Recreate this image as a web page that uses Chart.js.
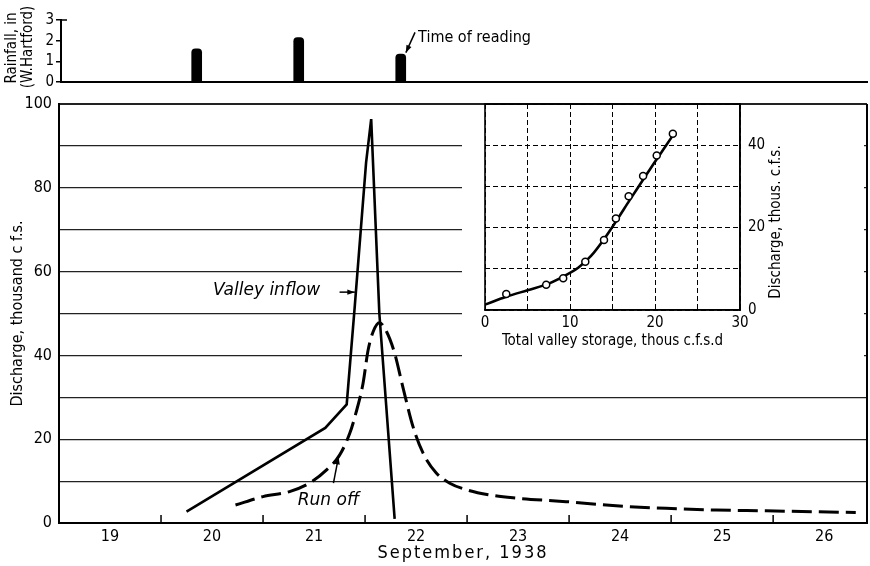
<!DOCTYPE html>
<html>
<head>
<meta charset="utf-8">
<script src="https://cdn.jsdelivr.net/npm/chart.js@4.4.1/dist/chart.umd.min.js"></script>
<style>
  html, body { margin: 0; padding: 0; background: #fff; }
  #wrap { position: relative; width: 870px; height: 566px; }
  #wrap canvas { position: absolute; left: 0; top: 0; }
</style>
</head>
<body>
<div id="wrap">
  <canvas id="flowChart" width="870" height="566"></canvas>
  <canvas id="rainChart" width="870" height="566"></canvas>
  <canvas id="storageChart" width="870" height="566"></canvas>
</div>
<script>
// Rainfall at W. Hartford (inches), placed at time of reading
const rainDays = [20.35, 21.35, 22.35];
const rainInches = [1.6, 2.15, 1.35];

// Valley inflow, thousand c.f.s.
const inflowDays = [20.25, 21.61, 21.82, 21.90, 22.01, 22.06, 22.14, 22.29];
const inflowFlow = [2.7, 22.7, 28.3, 52, 86, 96.4, 50, 1.0];

// Run off, thousand c.f.s.
const runoffDays = [20.73, 21.0, 21.26, 21.46, 21.62, 21.75, 21.85, 21.91, 21.98, 22.03, 22.08, 22.14,
  22.21, 22.29, 22.37, 22.47, 22.57, 22.70, 22.83, 23.0, 23.22, 23.45, 23.97, 24.46, 24.95, 25.44, 25.93, 26.81];
const runoffFlow = [4.3, 6.3, 7.5, 9.6, 12.6, 16.2, 21.4, 26.2, 33.3, 41.3, 45.7, 47.8,
  45.7, 40.5, 32.5, 23.0, 16.6, 11.9, 9.5, 7.9, 6.7, 6.0, 5.1, 4.1, 3.5, 3.1, 2.9, 2.5];

// September day labels sit mid-day, tick marks at midnight
const dayLabels = ['19', '20', '21', '22', '23', '24', '25', '26'];
const labelDays = [19.5, 20.5, 21.5, 22.5, 23.5, 24.5, 25.5, 26.5];
const dayTicks = [20, 21, 22, 23, 24, 25, 26];

// Storage / discharge relation (thousand c.f.s.d vs thousand c.f.s.)
const storagePts = [2.5, 7.2, 9.2, 11.8, 14.0, 15.4, 16.9, 18.6, 20.2, 22.1];
const dischargePts = [3.9, 6.1, 7.7, 11.7, 17.0, 22.2, 27.6, 32.5, 37.5, 42.8];
const curveStorage = [0, 2.5, 5, 7.5, 10, 11, 12.5, 14, 15.5, 17, 18.5, 20, 21.2, 22.2];
const curveDischarge = [1.3, 3.2, 4.8, 6.4, 9.0, 10.3, 13.2, 17.2, 21.8, 26.6, 31.3, 36.0, 39.6, 42.7];

const LETTER = '"DejaVu Sans Condensed", "DejaVu Sans", sans-serif';
const ITALIC = 'italic 17px "DejaVu Sans", sans-serif';

Chart.defaults.font.family = LETTER;
Chart.defaults.color = '#000';
Chart.defaults.animation = false;
Chart.defaults.plugins.legend.display = false;
Chart.defaults.plugins.tooltip.enabled = false;

const toXY = (xs, ys) => xs.map((v, i) => ({ x: v, y: ys[i] }));

function drawArrow(ctx, x1, y1, x2, y2) {
  const a = Math.atan2(y2 - y1, x2 - x1);
  ctx.beginPath();
  ctx.moveTo(x1, y1);
  ctx.lineTo(x2, y2);
  ctx.stroke();
  ctx.beginPath();
  ctx.moveTo(x2, y2);
  ctx.lineTo(x2 - 8 * Math.cos(a - 0.35), y2 - 8 * Math.sin(a - 0.35));
  ctx.lineTo(x2 - 8 * Math.cos(a + 0.35), y2 - 8 * Math.sin(a + 0.35));
  ctx.closePath();
  ctx.fill();
}

function verticalText(ctx, text, x, y, font) {
  ctx.save();
  ctx.translate(x, y);
  ctx.rotate(-Math.PI / 2);
  ctx.font = font;
  ctx.textAlign = 'center';
  ctx.textBaseline = 'middle';
  ctx.fillText(text, 0, 0);
  ctx.restore();
}

// Main hydrograph: frame, inner day ticks, titles and labels
const flowExtras = {
  id: 'flowExtras',
  afterDraw(chart) {
    const { ctx, chartArea: a, scales: { x, y } } = chart;
    ctx.save();
    ctx.strokeStyle = '#000';
    ctx.fillStyle = '#000';
    ctx.lineWidth = 1.5;
    dayTicks.forEach(d => {
      const px = x.getPixelForValue(d);
      ctx.beginPath();
      ctx.moveTo(px, a.bottom);
      ctx.lineTo(px, a.bottom - 8);
      ctx.stroke();
    });
    ctx.lineWidth = 2;
    ctx.beginPath();
    ctx.moveTo(a.right, a.top);
    ctx.lineTo(a.right, a.bottom);
    ctx.stroke();

    ctx.font = '18px ' + LETTER;
    ctx.textAlign = 'center';
    ctx.textBaseline = 'middle';
    ctx.letterSpacing = '2px';
    ctx.fillText('September, 1938', (a.left + a.right) / 2, 553);
    ctx.letterSpacing = '0px';
    verticalText(ctx, 'Discharge, thousand c f.s.', 18, (a.top + a.bottom) / 2, '16px ' + LETTER);

    ctx.font = ITALIC;
    ctx.textAlign = 'left';
    ctx.textBaseline = 'alphabetic';
    ctx.fillText('Valley inflow', x.getPixelForValue(20.51), y.getPixelForValue(54.4));
    ctx.lineWidth = 1.5;
    drawArrow(ctx, x.getPixelForValue(21.75), y.getPixelForValue(55.1), x.getPixelForValue(21.90), y.getPixelForValue(55.1));
    ctx.fillText('Run off', x.getPixelForValue(21.34), y.getPixelForValue(4.2));
    drawArrow(ctx, x.getPixelForValue(21.69), y.getPixelForValue(9.5), x.getPixelForValue(21.74), y.getPixelForValue(15.8));
    ctx.restore();
  }
};

new Chart(document.getElementById('flowChart'), {
  type: 'line',
  data: {
    datasets: [{
      label: 'Valley inflow',
      data: toXY(inflowDays, inflowFlow),
      borderColor: '#000',
      borderWidth: 2.6,
      pointRadius: 0,
      tension: 0
    }, {
      label: 'Run off',
      data: toXY(runoffDays, runoffFlow),
      borderColor: '#000',
      borderWidth: 3,
      borderDash: [20, 7],
      pointRadius: 0,
      cubicInterpolationMode: 'monotone'
    }]
  },
  options: {
    responsive: false,
    layout: { padding: { top: 104, right: 3, left: 0, bottom: 0 } },
    scales: {
      x: {
        type: 'linear',
        min: 19,
        max: 26.92,
        afterFit: s => { s.height = 43; },
        afterBuildTicks: s => { s.ticks = labelDays.map(v => ({ value: v })); },
        grid: { display: false, drawTicks: false },
        border: { color: '#000', width: 2 },
        ticks: {
          autoSkip: false,
          maxRotation: 0,
          padding: 4,
          font: { size: 16 },
          callback: (v, i) => dayLabels[i]
        }
      },
      y: {
        min: 0,
        max: 100,
        afterFit: s => { s.width = 59; },
        grid: {
          color: '#222',
          lineWidth: c => (c.tick && c.tick.value === 100 ? 2 : 1.2),
          drawTicks: false
        },
        border: { color: '#000', width: 2 },
        ticks: {
          stepSize: 10,
          padding: 7,
          autoSkip: false,
          font: { size: 16 },
          callback: v => (v % 20 === 0 ? v : '')
        }
      }
    }
  },
  plugins: [flowExtras]
});

// Rainfall panel: axis titles, top bracket and reading note
const rainExtras = {
  id: 'rainExtras',
  afterDraw(chart) {
    const { ctx, chartArea: a, scales: { x, y } } = chart;
    ctx.save();
    ctx.strokeStyle = '#000';
    ctx.fillStyle = '#000';
    ctx.lineWidth = 1.5;
    ctx.beginPath();
    ctx.moveTo(a.left, y.getPixelForValue(3));
    ctx.lineTo(a.left + 6, y.getPixelForValue(3));
    ctx.stroke();
    verticalText(ctx, 'Rainfall, in', 12, 48, '15px ' + LETTER);
    verticalText(ctx, '(W.Hartford)', 28, 47, '15px ' + LETTER);
    ctx.font = '16px ' + LETTER;
    ctx.textAlign = 'left';
    ctx.textBaseline = 'middle';
    ctx.fillText('Time of reading', x.getPixelForValue(22.52), y.getPixelForValue(2.14));
    drawArrow(ctx, x.getPixelForValue(22.49), y.getPixelForValue(2.4), x.getPixelForValue(22.40), y.getPixelForValue(1.42));
    ctx.restore();
  }
};

new Chart(document.getElementById('rainChart'), {
  type: 'bar',
  data: {
    datasets: [{
      label: 'Rainfall',
      data: toXY(rainDays, rainInches),
      backgroundColor: '#000',
      barThickness: 10,
      borderRadius: { topLeft: 4, topRight: 4 },
      borderSkipped: 'bottom'
    }]
  },
  options: {
    responsive: false,
    layout: { padding: { top: 20, right: 3, left: 0, bottom: 484 } },
    scales: {
      x: {
        type: 'linear',
        min: 19.02,
        max: 26.92,
        offset: false,
        afterFit: s => { s.height = 0; },
        grid: { display: false, drawTicks: false },
        ticks: { display: false },
        border: { color: '#000', width: 2 }
      },
      y: {
        min: 0,
        max: 3,
        afterFit: s => { s.width = 61; },
        grid: { drawOnChartArea: false, color: '#000', tickLength: 5, lineWidth: 1.5 },
        border: { color: '#000', width: 2 },
        ticks: { stepSize: 1, autoSkip: false, padding: 2, font: { size: 15 } }
      }
    }
  },
  plugins: [rainExtras]
});

// Inset: white backing, solid frame and axis titles
const storageExtras = {
  id: 'storageExtras',
  beforeDraw(chart) {
    const { ctx } = chart;
    ctx.save();
    ctx.fillStyle = '#fff';
    ctx.fillRect(462, 105, 402, 255);
    ctx.restore();
  },
  afterDraw(chart) {
    const { ctx, chartArea: a } = chart;
    ctx.save();
    ctx.strokeStyle = '#000';
    ctx.fillStyle = '#000';
    ctx.lineWidth = 1.6;
    ctx.strokeRect(a.left, a.top, a.right - a.left, a.bottom - a.top);
    ctx.font = '15px ' + LETTER;
    ctx.textAlign = 'center';
    ctx.textBaseline = 'middle';
    ctx.fillText('Total valley storage, thous c.f.s.d', (a.left + a.right) / 2, 341);
    verticalText(ctx, 'Discharge, thous. c.f.s.', 776, 222, '15px ' + LETTER);
    ctx.restore();
  }
};

new Chart(document.getElementById('storageChart'), {
  type: 'line',
  data: {
    datasets: [{
      label: 'Observed',
      data: toXY(storagePts, dischargePts),
      showLine: false,
      pointRadius: 3.5,
      pointBackgroundColor: '#fff',
      pointBorderColor: '#000',
      pointBorderWidth: 1.5,
      order: 0
    }, {
      label: 'Rating',
      data: toXY(curveStorage, curveDischarge),
      borderColor: '#000',
      borderWidth: 2.6,
      pointRadius: 0,
      cubicInterpolationMode: 'monotone',
      order: 1
    }]
  },
  options: {
    responsive: false,
    layout: { padding: { top: 104, right: 0, left: 485, bottom: 0 } },
    scales: {
      x: {
        type: 'linear',
        min: 0,
        max: 30,
        afterFit: s => { s.height = 256; },
        grid: { color: '#000', lineWidth: 1, drawTicks: false },
        border: { color: '#000', width: 1.6, dash: [5, 3] },
        ticks: {
          stepSize: 5,
          padding: 4,
          maxRotation: 0,
          autoSkip: false,
          font: { size: 15 },
          callback: v => (v % 10 === 0 ? v : '')
        }
      },
      y: {
        position: 'right',
        min: 0,
        max: 50,
        afterFit: s => { s.width = 130; },
        grid: { color: '#000', lineWidth: 1, drawTicks: false },
        border: { color: '#000', width: 1.6, dash: [5, 3] },
        ticks: {
          stepSize: 10,
          padding: 8,
          autoSkip: false,
          font: { size: 15 },
          callback: v => (v % 20 === 0 ? v : '')
        }
      }
    }
  },
  plugins: [storageExtras]
});
</script>
</body>
</html>
